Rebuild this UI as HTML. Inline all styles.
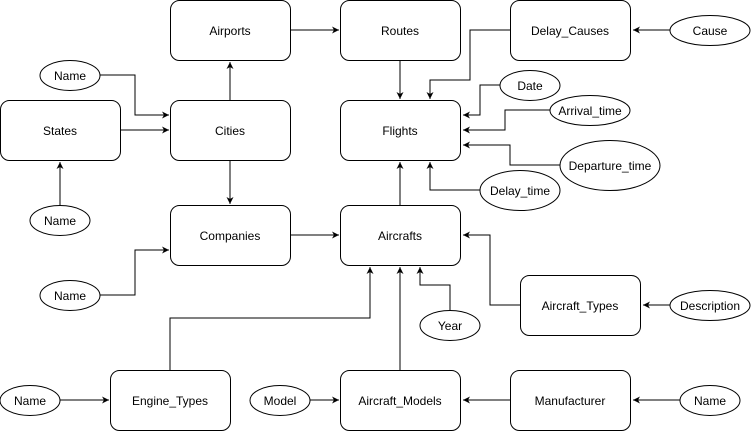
<!DOCTYPE html>
<html><head><meta charset="utf-8"><style>
html,body{margin:0;padding:0;background:#fff}
svg text{font-family:"Liberation Sans",sans-serif;font-size:12px;fill:#000}
</style></head><body>
<svg width="751" height="431" viewBox="0 0 751 431" xmlns="http://www.w3.org/2000/svg">
<defs><marker id="a" markerWidth="8" markerHeight="8" refX="7" refY="4" orient="auto" markerUnits="userSpaceOnUse"><path d="M0,0.5 L7,4 L0,7.5 L2,4 Z" fill="#000"/></marker></defs>
<g fill="none" stroke="#000" stroke-width="1" marker-end="url(#a)">
<path d="M291,30 H339"/>
<path d="M230,100 V62"/>
<path d="M400,60 V99"/>
<path d="M510,30 H470 V80 H430 V99"/>
<path d="M670,30 H633"/>
<path d="M500,85 H480 V115 H463"/>
<path d="M550,110 H505 V130 H463"/>
<path d="M560,165 H510 V145 H463"/>
<path d="M480,190 H430 V162"/>
<path d="M100,75 H135 V115 H169"/>
<path d="M121,130 H169"/>
<path d="M60,205 V162"/>
<path d="M230,160 V204"/>
<path d="M100,295 H135 V250 H169"/>
<path d="M291,235 H339"/>
<path d="M400,205 V162"/>
<path d="M170,370 V318 H370 V267"/>
<path d="M450,310 V285 H420 V267"/>
<path d="M400,370 V267"/>
<path d="M520,305 H490 V235 H463"/>
<path d="M670,305 H643"/>
<path d="M60,400 H109"/>
<path d="M310,400 H339"/>
<path d="M510,400 H463"/>
<path d="M680,400 H633"/>
</g>
<g fill="#fff" stroke="#000" stroke-width="1">
<rect x="170.5" y="0.5" width="120" height="60" rx="9"/>
<rect x="340.5" y="0.5" width="120" height="60" rx="9"/>
<rect x="510.5" y="0.5" width="120" height="60" rx="9"/>
<rect x="0.5" y="100.5" width="120" height="60" rx="9"/>
<rect x="170.5" y="100.5" width="120" height="60" rx="9"/>
<rect x="340.5" y="100.5" width="120" height="60" rx="9"/>
<rect x="170.5" y="205.5" width="120" height="60" rx="9"/>
<rect x="340.5" y="205.5" width="120" height="60" rx="9"/>
<rect x="520.5" y="275.5" width="120" height="60" rx="9"/>
<rect x="110.5" y="370.5" width="120" height="60" rx="9"/>
<rect x="340.5" y="370.5" width="120" height="60" rx="9"/>
<rect x="510.5" y="370.5" width="120" height="60" rx="9"/>
<ellipse cx="70" cy="75.5" rx="30" ry="15"/>
<ellipse cx="60" cy="220.5" rx="30" ry="15"/>
<ellipse cx="70" cy="295.5" rx="30" ry="15"/>
<ellipse cx="710" cy="30.5" rx="40" ry="15"/>
<ellipse cx="530" cy="85.5" rx="30" ry="15"/>
<ellipse cx="590" cy="110.5" rx="40" ry="15"/>
<ellipse cx="610" cy="165.5" rx="50" ry="25"/>
<ellipse cx="520" cy="190.5" rx="40" ry="20"/>
<ellipse cx="450" cy="325.5" rx="30" ry="15"/>
<ellipse cx="710" cy="305.5" rx="40" ry="15"/>
<ellipse cx="30" cy="400.5" rx="30" ry="15"/>
<ellipse cx="280" cy="400.5" rx="30" ry="15"/>
<ellipse cx="710" cy="400.5" rx="30" ry="15"/>
</g>
<g text-anchor="middle" dominant-baseline="central">
<text x="230" y="31">Airports</text>
<text x="400" y="31">Routes</text>
<text x="570" y="31">Delay_Causes</text>
<text x="60" y="131">States</text>
<text x="230" y="131">Cities</text>
<text x="400" y="131">Flights</text>
<text x="230" y="236">Companies</text>
<text x="400" y="236">Aircrafts</text>
<text x="580" y="306">Aircraft_Types</text>
<text x="170" y="401">Engine_Types</text>
<text x="400" y="401">Aircraft_Models</text>
<text x="570" y="401">Manufacturer</text>
<text x="70" y="76">Name</text>
<text x="60" y="221">Name</text>
<text x="70" y="296">Name</text>
<text x="710" y="31">Cause</text>
<text x="530" y="86">Date</text>
<text x="590" y="111">Arrival_time</text>
<text x="610" y="166">Departure_time</text>
<text x="520" y="191">Delay_time</text>
<text x="450" y="326">Year</text>
<text x="710" y="306">Description</text>
<text x="30" y="401">Name</text>
<text x="280" y="401">Model</text>
<text x="710" y="401">Name</text>
</g>
</svg>
</body></html>
